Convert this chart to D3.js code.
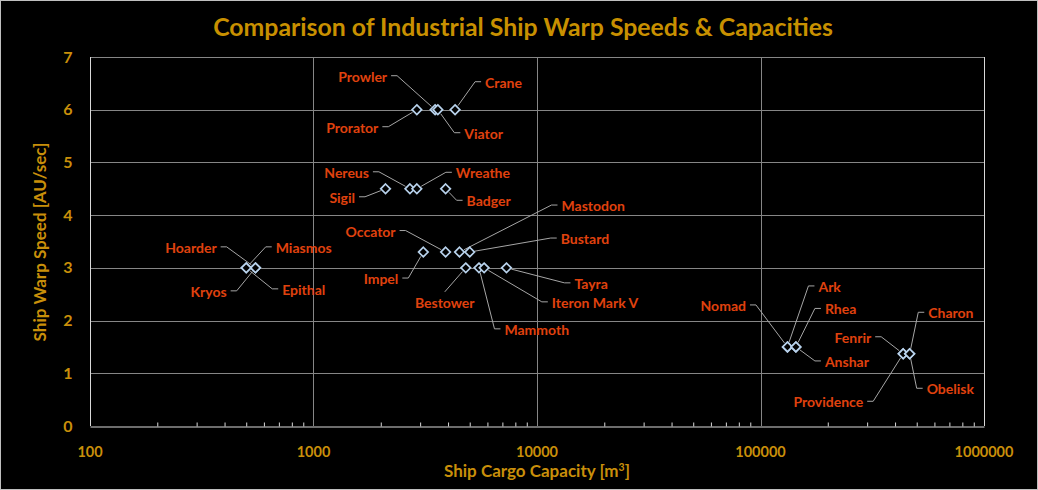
<!DOCTYPE html>
<html>
<head>
<meta charset="utf-8">
<script src="https://cdn.jsdelivr.net/npm/d3@7"></script>
<style>
  html, body { margin: 0; padding: 0; background: #000; }
  svg { display: block; }
  text { font-family: Lato, "Open Sans", sans-serif; font-weight: bold; }
</style>
</head>
<body>
<svg id="chart" width="1038" height="490"></svg>
<script>
// ---- data ----
const ships = ["Prorator","Prowler","Viator","Crane","Sigil","Nereus","Wreathe","Badger",
  "Impel","Occator","Mastodon","Bustard","Bestower","Mammoth","Iteron Mark V","Tayra",
  "Hoarder","Miasmos","Kryos","Epithal","Nomad","Ark","Rhea","Anshar",
  "Fenrir","Providence","Charon","Obelisk"];
const cargo = [2900,3500,3600,4300,2100,2700,2900,3900,
  3100,3900,4500,5000,4800,5500,5800,7300,
  550,500,550,500,132000,132000,144000,144000,
  435000,435000,465000,465000];
const warpSpeed = [6,6,6,6,4.5,4.5,4.5,4.5,
  3.3,3.3,3.3,3.3,3,3,3,3,
  3,3,3,3,1.5,1.5,1.5,1.5,
  1.37,1.37,1.37,1.37];
const xTickValues = [100,1000,10000,100000,1000000];
const yTickValues = [0,1,2,3,4,5,6,7];
const titleText = "Comparison of Industrial Ship Warp Speeds & Capacities";
const xTitle = "Ship Cargo Capacity [m";
const yTitle = "Ship Warp Speed [AU/sec]";

// ---- label layout (pixel offsets from point, side of text) ----
const labelLayout = {
  "Prowler":[-48,-33,"l"], "Crane":[30,-27,"r"], "Prorator":[-38.5,18,"l"], "Viator":[26.5,24,"r"],
  "Nereus":[-41,-16,"l"], "Wreathe":[39,-15.5,"r"], "Sigil":[-30.5,9,"l"], "Badger":[21,12.5,"r"],
  "Mastodon":[102,-46,"r"], "Bustard":[91,-13,"r"], "Occator":[-50,-20.5,"l"], "Impel":[-25,27,"l"],
  "Hoarder":[-38.8,-20,"l"], "Miasmos":[29.5,-20,"r"], "Kryos":[-28.8,24,"l"], "Epithal":[36,22,"r"],
  "Bestower":[-21,35,"b"], "Mammoth":[25.5,62,"r"], "Iteron Mark V":[67.7,35,"r"], "Tayra":[68,16,"r"],
  "Nomad":[-41.5,-41,"l"], "Ark":[31,-60,"r"], "Rhea":[29,-37.5,"r"], "Anshar":[29,15,"r"],
  "Fenrir":[-32,-16,"l"], "Providence":[-40,48.5,"l"], "Charon":[18.6,-40.5,"r"], "Obelisk":[17,35.5,"r"]
};

const svg = d3.select("#chart");
const W = 1038, H = 490;
const m = {left: 90, right: 984, top: 57, bottom: 426};

svg.append("rect").attr("x",0).attr("y",0).attr("width",W).attr("height",H).attr("fill","#000");
svg.append("rect").attr("x",0.5).attr("y",0.5).attr("width",W-1).attr("height",H-1)
  .attr("fill","none").attr("stroke","#bfbfbf");

const x = d3.scaleLog().domain([100,1000000]).range([m.left, m.right]);
const y = d3.scaleLinear().domain([0,7]).range([m.bottom, m.top]);

const gridColor = "#868686";
svg.append("g").selectAll("line").data(yTickValues.filter(d=>d>0)).join("line")
  .attr("x1", m.left).attr("x2", m.right)
  .attr("y1", d=>Math.round(y(d))+0.5).attr("y2", d=>Math.round(y(d))+0.5)
  .attr("stroke", gridColor).attr("stroke-width",1);
svg.append("g").selectAll("line").data(xTickValues.slice(1)).join("line")
  .attr("x1", d=>Math.round(x(d))+0.5).attr("x2", d=>Math.round(x(d))+0.5)
  .attr("y1", m.top).attr("y2", m.bottom)
  .attr("stroke", d=> d===1000000 ? "#d9d9d9" : gridColor).attr("stroke-width",1);

const xAxis = d3.axisBottom(x)
  .tickValues(x.ticks().filter(d=> xTickValues.indexOf(d) < 0))
  .tickSizeInner(-4).tickSizeOuter(0).tickFormat("");
const gx = svg.append("g").attr("transform",`translate(0,${Math.round(y(0))+0.5})`).call(xAxis);
gx.select(".domain").attr("stroke","#d9d9d9");
gx.selectAll(".tick line").attr("stroke","#d9d9d9");

svg.append("line").attr("x1", m.left+0.5).attr("x2", m.left+0.5)
  .attr("y1", m.top).attr("y2", m.bottom).attr("stroke","#d9d9d9");

const tickColor = "#c98f0a";
svg.append("g").selectAll("text").data(xTickValues).join("text")
  .attr("x", d=>x(d)).attr("y", 457).attr("text-anchor","middle")
  .attr("fill", tickColor).attr("font-size", 14.5).text(d=>d3.format("d")(d));
svg.append("g").selectAll("text").data(yTickValues).join("text")
  .attr("x", 68).attr("y", d=>y(d)+5.5).attr("text-anchor","middle")
  .attr("fill", tickColor).attr("font-size", 16).text(d=>d);

svg.append("text").attr("x", 523).attr("y", 36).attr("text-anchor","middle")
  .attr("fill","#c89000").attr("font-size", 24.8).text(titleText);
const xt = svg.append("text").attr("x", 537).attr("y", 477).attr("text-anchor","middle")
  .attr("fill", tickColor).attr("font-size", 17);
xt.append("tspan").text(xTitle);
xt.append("tspan").attr("font-size", 10.5).attr("dy", -6.5).text("3");
xt.append("tspan").attr("dy", 6.5).text("]");
svg.append("text").attr("transform","translate(46,242) rotate(-90)").attr("text-anchor","middle")
  .attr("fill", tickColor).attr("font-size", 17).text(yTitle);

const labelColor = "#e0420e";
const lead = svg.append("g");
const labs = svg.append("g");
ships.forEach((s,i)=>{
  const px = x(cargo[i]), py = y(warpSpeed[i]);
  const [dx, dy, side] = labelLayout[s];
  const lx = px+dx, ly = py+dy;
  const sy = ly-1;
  const t = labs.append("text").attr("fill", labelColor).attr("font-size", 14)
    .attr("x", lx).attr("y", ly+5).text(s);
  let pts;
  if (side === "l") {
    t.attr("text-anchor","end");
    pts = [[lx+4, sy],[lx+10, sy]];
  } else if (side === "r") {
    t.attr("text-anchor","start");
    pts = [[lx-4, sy],[lx-10, sy]];
  } else {
    t.attr("text-anchor","middle");
    pts = [[lx, ly-11]];
  }
  const last = pts[pts.length-1];
  const vx = px-last[0], vy = py-last[1];
  const len = Math.hypot(vx,vy);
  pts.push([px - vx/len*5, py - vy/len*5]);
  lead.append("path").attr("d", d3.line()(pts)).attr("fill","none")
    .attr("stroke","#a6a6a6").attr("stroke-width",1);
});

svg.append("g").selectAll("path").data(ships).join("path")
  .attr("transform",(d,i)=>`translate(${x(cargo[i])},${y(warpSpeed[i])})`)
  .attr("d", d3.symbol().type(d3.symbolDiamond2).size(58))
  .attr("fill","#000").attr("stroke","#b8d2ec").attr("stroke-width",1.7);
</script>
</body>
</html>
